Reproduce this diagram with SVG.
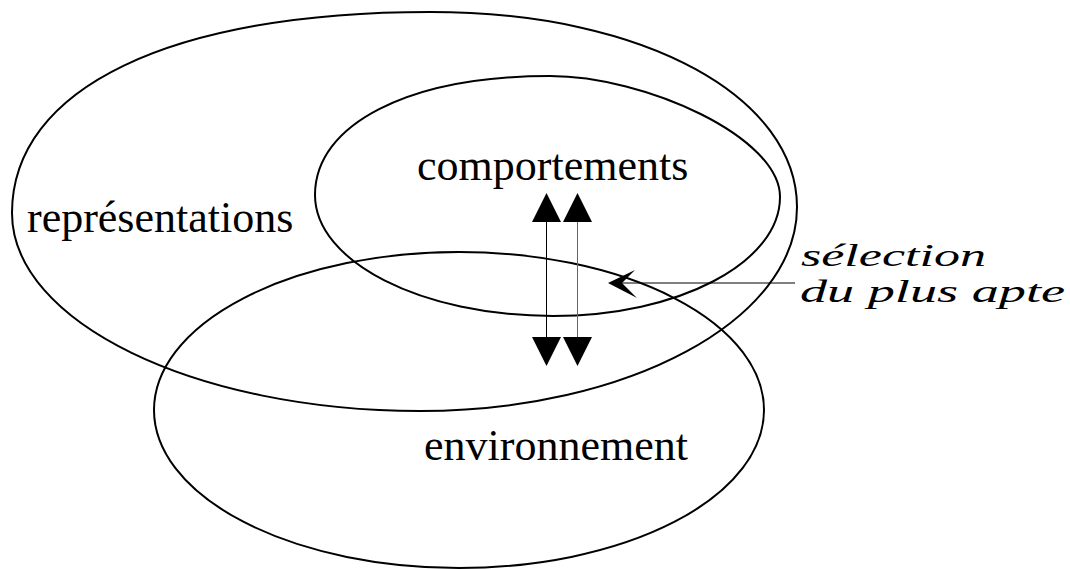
<svg xmlns="http://www.w3.org/2000/svg" width="1070" height="569" viewBox="0 0 1070 569">
  <style>
    .shape { fill: none; stroke: #000; stroke-width: 2; }
    .lbl { font-family: "Liberation Serif", "Times New Roman", serif; font-size: 44px; fill: #000; }
    .ital { font-family: "Liberation Serif", "Times New Roman", serif; font-style: italic; font-size: 32px; fill: #000; }
    .head { fill: #000; stroke: none; }
  </style>
  <rect x="0" y="0" width="1070" height="569" fill="#fff"/>

  <g id="representations">
    <path class="shape" d="M12,213 C12,88 171,12 430,12 C650,12 797,100 797,207 C797,320 628,411 420,411 C195,411 12,322 12,213 Z"/>
    <text class="lbl" x="27" y="232">représentations</text>
  </g>

  <g id="comportements">
    <path class="shape" d="M315,195 C315,124 409,76 550,76 C645,76 780,137 780,197 C780,263 678,316 553,316 C422,316 315,262 315,195 Z"/>
    <text class="lbl" x="417" y="180">comportements</text>
  </g>

  <g id="environnement">
    <ellipse class="shape" cx="459" cy="410" rx="305" ry="158"/>
    <text class="lbl" x="424" y="460">environnement</text>
  </g>

  <g id="selection">
    <text class="ital" x="801" y="266" textLength="185" lengthAdjust="spacingAndGlyphs">sélection</text>
    <text class="ital" x="800" y="302" textLength="265" lengthAdjust="spacingAndGlyphs">du plus apte</text>
  </g>

  <g id="connectors">
    <line x1="546.5" y1="220" x2="546.5" y2="339" stroke="#000" stroke-width="1"/>
    <line x1="577.5" y1="220" x2="577.5" y2="339" stroke="#666" stroke-width="1"/>
    <polygon class="head" points="546.5,193 532,222 561,222"/>
    <polygon class="head" points="577.5,193 563,222 592,222"/>
    <polygon class="head" points="532,337 561,337 546.5,366"/>
    <polygon class="head" points="563,337 592,337 577.5,366"/>
    <line x1="620" y1="283" x2="795" y2="283" stroke="#000" stroke-width="1"/>
    <polygon class="head" points="608,283 635,270 622,283 637,298"/>
  </g>
</svg>
